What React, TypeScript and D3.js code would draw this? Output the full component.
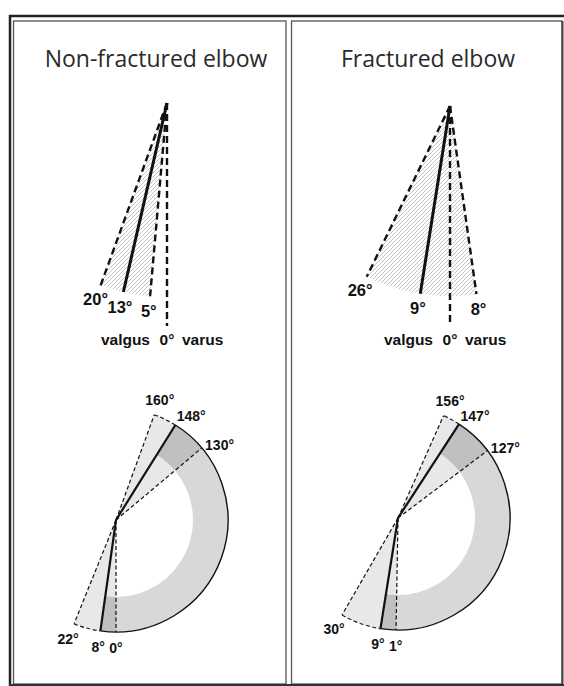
import React, { useEffect, useRef } from 'react';
import * as d3 from 'd3';

// panels
const panelTitles = ['Non-fractured elbow', 'Fractured elbow'];

// carrying angle, valgus positive / varus negative
const valgusMax = [20, 26];
const valgusMean = [13, 9];
const valgusMin = [5, -8];

// flexion arc (degrees)
const flexionMax = [160, 156];
const flexionMean = [148, 147];
const flexionMin = [130, 127];

// hyperextension (degrees)
const hyperextMax = [22, 30];
const hyperextMean = [8, 9];
const hyperextMin = [0, 1];

const W = 564;
const H = 686;
const labelFont = '"Liberation Sans", Arial, sans-serif';

const App: React.FC = () => {
  const svgRef = useRef<SVGSVGElement>(null);

  useEffect(() => {
    if (!svgRef.current) return;
    const svg = d3.select(svgRef.current);
    svg.selectAll('*').remove(); // Clear previous

    const defs = svg.append('defs');
    const pat = defs
      .append('pattern')
      .attr('id', 'hatch')
      .attr('patternUnits', 'userSpaceOnUse')
      .attr('width', 4)
      .attr('height', 4);
    pat.append('path')
      .attr('d', 'M-1,1 L1,-1 M0,4 L4,0 M3,5 L5,3')
      .attr('stroke', '#b4b4b4')
      .attr('stroke-width', 0.8);

    // frame
    const panelX = [[13.5, 286], [291.5, 562]];
    panelX.forEach(([x0, x1]) => {
      svg.append('rect')
        .attr('x', x0).attr('y', 21)
        .attr('width', x1 - x0).attr('height', 663)
        .attr('fill', 'none').attr('stroke', '#555').attr('stroke-width', 1.3);
    });
    svg.append('line').attr('x1', 9).attr('x2', W).attr('y1', 16).attr('y2', 16)
      .attr('stroke', '#222').attr('stroke-width', 2.5);
    svg.append('line').attr('x1', 10).attr('x2', 10).attr('y1', 15).attr('y2', H)
      .attr('stroke', '#222').attr('stroke-width', 2.5);
    svg.append('line').attr('x1', 562.5).attr('x2', 562.5).attr('y1', 21).attr('y2', H)
      .attr('stroke', '#444').attr('stroke-width', 2);
    svg.append('line').attr('x1', 9).attr('x2', W).attr('y1', 685).attr('y2', 685)
      .attr('stroke', '#333').attr('stroke-width', 2);

    const titleX = [156, 428];
    const fanApex = [[167, 103], [450, 106]];
    const fanR = [194, 190];
    const arcCenter = [[116, 520], [398, 518]];
    const R = 112;
    const innerR = 77;

    // valgus angle -> d3 radial angle (0 = up, clockwise)
    const topAngle = d3.scaleLinear().domain([0, 90]).range([Math.PI, Math.PI * 1.5]);
    // flexion angle (0 = straight down, towards the right) -> d3 radial angle
    const flexAngle = d3.scaleLinear().domain([0, 180]).range([Math.PI, 0]);
    const rad = (deg: number) => (deg * Math.PI) / 180;

    const arcGen = d3.arc<any>();

    panelTitles.forEach((title, i) => {
      svg.append('text')
        .attr('x', titleX[i]).attr('y', 67)
        .attr('text-anchor', 'middle')
        .attr('font-family', '"Open Sans", sans-serif')
        .attr('font-size', 23)
        .attr('fill', '#2a2a2a')
        .text(title);

      // ---- carrying angle fan ----
      const [ax, ay] = fanApex[i];
      const fr = fanR[i];
      const fan = svg.append('g').attr('transform', `translate(${ax},${ay})`);

      fan.append('path')
        .attr('d', arcGen({
          innerRadius: 0,
          outerRadius: fr,
          startAngle: topAngle(valgusMin[i]),
          endAngle: topAngle(valgusMax[i]),
        }))
        .attr('fill', 'url(#hatch)');

      const fanLines = [
        { v: valgusMax[i], dashed: true },
        { v: valgusMean[i], dashed: false },
        { v: valgusMin[i], dashed: true },
      ];
      fanLines.forEach((l) => {
        const [px, py] = d3.pointRadial(topAngle(l.v), fr);
        fan.append('line')
          .attr('x1', 0).attr('y1', 0).attr('x2', px).attr('y2', py)
          .attr('stroke', '#111')
          .attr('stroke-width', l.dashed ? 2.4 : 3)
          .attr('stroke-dasharray', l.dashed ? '7,4' : null);
        const [tx, ty] = d3.pointRadial(topAngle(l.v), fr + 15);
        fan.append('text')
          .attr('x', tx).attr('y', ty)
          .attr('text-anchor', 'middle')
          .attr('dominant-baseline', 'central')
          .attr('font-family', labelFont)
          .attr('font-weight', 'bold')
          .attr('font-size', 16.5)
          .attr('fill', '#111')
          .text(`${Math.abs(l.v)}°`);
      });

      // 0° reference
      fan.append('line')
        .attr('x1', 0).attr('y1', 0).attr('x2', 0).attr('y2', 326 - ay)
        .attr('stroke', '#111').attr('stroke-width', 2.4)
        .attr('stroke-dasharray', '7,4');

      const refY = 345 - ay;
      const refText = [
        { t: 'valgus', x: -17, anchor: 'end' },
        { t: '0°', x: 0, anchor: 'middle' },
        { t: 'varus', x: 15, anchor: 'start' },
      ];
      refText.forEach((r) => {
        fan.append('text')
          .attr('x', r.x).attr('y', refY)
          .attr('text-anchor', r.anchor)
          .attr('font-family', labelFont)
          .attr('font-weight', 'bold')
          .attr('font-size', 15.5)
          .attr('fill', '#111')
          .text(r.t);
      });

      // ---- flexion / extension arc ----
      const [cx, cy] = arcCenter[i];
      const g = svg.append('g').attr('transform', `translate(${cx},${cy})`);
      const fMax = flexionMax[i];
      const fMean = flexionMean[i];
      const fMin = flexionMin[i];
      const eMax = -hyperextMax[i];
      const eMean = -hyperextMean[i];
      const eMin = -hyperextMin[i];

      const sectors = [
        { a0: fMin, a1: fMax, r0: 0, fill: '#e8e8e8' },
        { a0: eMax, a1: eMin, r0: 0, fill: '#e8e8e8' },
        { a0: eMin, a1: fMin, r0: innerR, fill: '#d8d8d8' },
        { a0: fMin, a1: fMean, r0: innerR, fill: '#c0c0c0' },
        { a0: eMean, a1: eMin, r0: innerR, fill: '#c0c0c0' },
      ];
      sectors.forEach((s) => {
        g.append('path')
          .attr('d', arcGen({
            innerRadius: s.r0,
            outerRadius: R,
            startAngle: flexAngle(s.a1),
            endAngle: flexAngle(s.a0),
          }))
          .attr('fill', s.fill);
      });

      // outer rim: canvas angle = 90° - theta
      const rim = (from: number, to: number) => {
        const p = d3.path();
        p.arc(0, 0, R, Math.PI / 2 - rad(from), Math.PI / 2 - rad(to), from < to);
        return p.toString();
      };
      g.append('path').attr('d', rim(eMean, fMean))
        .attr('fill', 'none').attr('stroke', '#111').attr('stroke-width', 1.4);
      g.append('path').attr('d', rim(fMean, fMax))
        .attr('fill', 'none').attr('stroke', '#222').attr('stroke-width', 1.2)
        .attr('stroke-dasharray', '4,2.5');
      g.append('path').attr('d', rim(eMax, eMean))
        .attr('fill', 'none').attr('stroke', '#222').attr('stroke-width', 1.2)
        .attr('stroke-dasharray', '4,2.5');

      const spokes = [
        { v: fMax, label: flexionMax[i], dashed: true, shift: 0 },
        { v: fMean, label: flexionMean[i], dashed: false, shift: -4 },
        { v: fMin, label: flexionMin[i], dashed: true, shift: -4 },
        { v: eMin, label: hyperextMin[i], dashed: true, shift: 0 },
        { v: eMean, label: hyperextMean[i], dashed: false, shift: 0 },
        { v: eMax, label: hyperextMax[i], dashed: true, shift: 0 },
      ];
      spokes.forEach((s) => {
        const [px, py] = d3.pointRadial(flexAngle(s.v), R);
        g.append('line')
          .attr('x1', 0).attr('y1', 0).attr('x2', px).attr('y2', py)
          .attr('stroke', '#111')
          .attr('stroke-width', s.dashed ? 1.2 : 2.2)
          .attr('stroke-dasharray', s.dashed ? '4,2.5' : null);
        const [tx, ty] = d3.pointRadial(flexAngle(s.v + s.shift), R + 16);
        g.append('text')
          .attr('x', tx).attr('y', ty)
          .attr('text-anchor', 'middle')
          .attr('dominant-baseline', 'central')
          .attr('font-family', labelFont)
          .attr('font-weight', 'bold')
          .attr('font-size', 14)
          .attr('fill', '#111')
          .text(`${s.label}°`);
      });
    });
  }, []);

  return (
    <svg
      ref={svgRef}
      width={W}
      height={H}
      style={{ position: 'absolute', left: 0, top: 0, background: '#fff' }}
    ></svg>
  );
};

export default App;
